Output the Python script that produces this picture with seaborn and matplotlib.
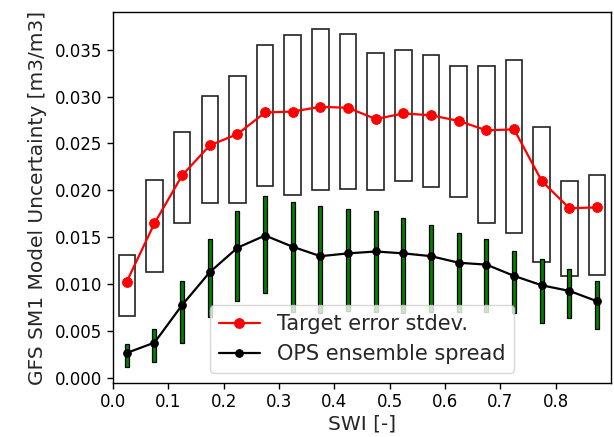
import numpy as np
import pandas as pd
import matplotlib
matplotlib.use("Agg")
import matplotlib.pyplot as plt
import seaborn as sns

# SWI bin centres
swi = [0.025, 0.075, 0.125, 0.175, 0.225, 0.275, 0.325, 0.375, 0.425,
       0.475, 0.525, 0.575, 0.625, 0.675, 0.725, 0.775, 0.825, 0.875]

# Target error standard deviation (median) and its spread range per bin
target_stdev = [0.0103, 0.0165, 0.0216, 0.0248, 0.0260, 0.0283, 0.0284, 0.0289, 0.0288,
                0.0276, 0.0282, 0.0280, 0.0274, 0.0264, 0.0265, 0.0210, 0.0181, 0.0182]
target_low = [0.0066, 0.0113, 0.0165, 0.0187, 0.0187, 0.0205, 0.0195, 0.0200, 0.0202,
              0.0200, 0.0210, 0.0204, 0.0193, 0.0165, 0.0155, 0.0124, 0.0109, 0.0110]
target_high = [0.0131, 0.0211, 0.0262, 0.0301, 0.0322, 0.0355, 0.0366, 0.0372, 0.0367,
               0.0346, 0.0349, 0.0344, 0.0332, 0.0332, 0.0339, 0.0268, 0.0210, 0.0216]

# OPS ensemble spread (median) and its range per bin
ops_spread = [0.0027, 0.0038, 0.0078, 0.0113, 0.0139, 0.0152, 0.0140, 0.0130, 0.0133,
              0.0135, 0.0133, 0.0130, 0.0123, 0.0121, 0.0109, 0.0099, 0.0093, 0.0082]
ops_low = [0.0012, 0.0017, 0.0038, 0.0065, 0.0082, 0.0091, 0.0071, 0.0070, 0.0072,
           0.0071, 0.0070, 0.0071, 0.0071, 0.0071, 0.0069, 0.0059, 0.0064, 0.0052]
ops_high = [0.0037, 0.0052, 0.0104, 0.0148, 0.0178, 0.0194, 0.0188, 0.0183, 0.0180,
            0.0178, 0.0171, 0.0163, 0.0155, 0.0148, 0.0136, 0.0127, 0.0116, 0.0104]

df = pd.DataFrame({"swi": swi, "target": target_stdev, "ops": ops_spread})

sns.set_theme(style="ticks")
plt.rcParams["font.family"] = ["DejaVu Sans"]
plt.rcParams["axes.edgecolor"] = "black"
plt.rcParams["xtick.color"] = "black"
plt.rcParams["ytick.color"] = "black"
plt.rcParams["axes.linewidth"] = 1.0

fig = plt.figure(figsize=(6.14, 4.37), dpi=100)
ax = fig.add_axes([0.184, 0.1236, 0.811, 0.849])

# Open rectangles: range of the target error stdev
box_bottom = np.array(target_low)
box_height = np.array(target_high) - box_bottom
ax.bar(swi, box_height, bottom=box_bottom, width=0.03, facecolor="none",
       edgecolor="#222222", linewidth=1.2, zorder=1)

# Green bars: range of the ensemble spread
bar_bottom = np.array(ops_low)
bar_height = np.array(ops_high) - bar_bottom
ax.bar(swi, bar_height, bottom=bar_bottom, width=0.0072, color="green",
       edgecolor="black", linewidth=0.9, zorder=3)

sns.lineplot(data=df, x="swi", y="target", ax=ax, color="red", marker="o",
             markersize=7, markeredgecolor="red", linewidth=1.6,
             label="Target error stdev.", zorder=4)
sns.lineplot(data=df, x="swi", y="ops", ax=ax, color="black", marker="o",
             markersize=5.5, markeredgecolor="black", linewidth=1.6,
             label="OPS ensemble spread", zorder=5)

ax.set_xlim(0, 0.9)
ax.set_ylim(-0.0005, 0.039)
ax.set_xticks(np.arange(0, 0.81, 0.1))
ax.set_yticks(np.arange(0, 0.0351, 0.005))
ax.set_xticklabels([f"{v:.1f}" for v in np.arange(0, 0.81, 0.1)])
ax.set_yticklabels([f"{v:.3f}" for v in np.arange(0, 0.0351, 0.005)])
ax.tick_params(labelsize=12, length=4, width=1, direction="out")
ax.set_xlabel("SWI [-]", fontsize=14.5, labelpad=2)
ax.set_ylabel("GFS SM1 Model Uncertainty [m3/m3]", fontsize=14.5, labelpad=6)

leg = ax.legend(loc="lower center", fontsize=15, frameon=True, fancybox=True,
                framealpha=0.8, edgecolor="0.8", borderaxespad=0.5)
leg.set_zorder(10)

fig.savefig("out.png", dpi=100)
